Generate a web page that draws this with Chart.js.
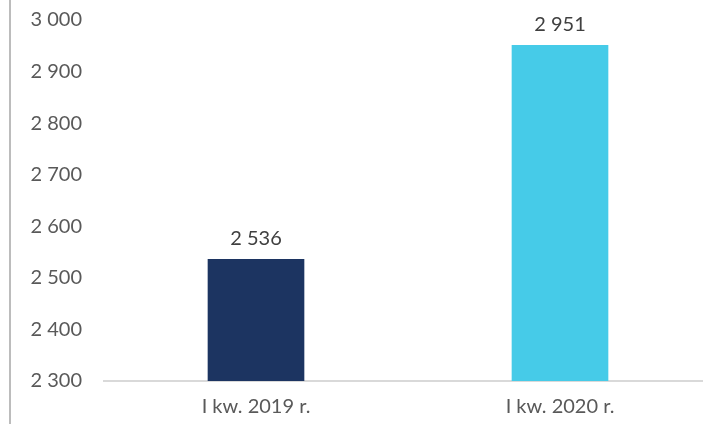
<!DOCTYPE html>
<html>
<head>
<meta charset="utf-8">
<script src="https://cdn.jsdelivr.net/npm/chart.js@4/dist/chart.umd.min.js"></script>
<style>
  html, body { margin: 0; padding: 0; background: #fff; overflow: hidden; }
  #wrap { width: 712px; height: 424px; }
</style>
</head>
<body>
<div id="wrap"><canvas id="myChart"></canvas></div>
<script>
const categories = ['I kw. 2019 r.', 'I kw. 2020 r.'];
const values = [2536, 2951];
const barColors = ['#1C3461', '#46CBE8'];
const yMin = 2300;
const yMax = 3000;
const yStep = 100;

// 2536 -> "2 536"
function fmt(v) {
  return String(Math.round(v)).replace(/\B(?=(\d{3})+(?!\d))/g, ' ');
}

const font = { family: 'Lato, "Open Sans", sans-serif', size: 20 };

// value above each bar
const valueLabels = {
  id: 'valueLabels',
  afterDatasetsDraw(chart) {
    const ctx = chart.ctx;
    const meta = chart.getDatasetMeta(0);
    ctx.save();
    ctx.font = font.size + 'px ' + font.family;
    ctx.fillStyle = '#404040';
    ctx.textAlign = 'center';
    ctx.textBaseline = 'middle';
    meta.data.forEach((bar, i) => {
      ctx.fillText(fmt(values[i]), bar.x, bar.y - 21);
    });
    ctx.restore();
  }
};

// thin frame line on the left edge
const leftRule = {
  id: 'leftRule',
  beforeDraw(chart) {
    const ctx = chart.ctx;
    ctx.save();
    ctx.strokeStyle = '#A6A6A6';
    ctx.lineWidth = 1.5;
    ctx.beginPath();
    ctx.moveTo(10, 0);
    ctx.lineTo(10, chart.height);
    ctx.stroke();
    ctx.restore();
  }
};

const ctx = document.getElementById('myChart');
const myChart = new Chart(ctx, {
  type: 'bar',
  data: {
    labels: categories,
    datasets: [{
      data: values,
      backgroundColor: barColors,
      borderWidth: 0,
      barThickness: 96,
    }]
  },
  options: {
    responsive: true,
    maintainAspectRatio: false,
    animation: false,
    layout: { padding: { top: 20, left: 0, right: 0, bottom: 0 } },
    plugins: {
      legend: { display: false },
      tooltip: { enabled: false },
    },
    scales: {
      x: {
        grid: { display: false, drawTicks: false },
        border: { color: '#D9D9D9', width: 2 },
        ticks: { color: '#595959', font: font, padding: 14 },
        afterFit(scale) { scale.height = 43; },
      },
      y: {
        min: yMin,
        max: yMax,
        grid: { display: false, drawTicks: false },
        border: { display: false },
        ticks: {
          stepSize: yStep,
          color: '#595959',
          font: font,
          padding: 22,
          callback: (v) => fmt(v),
        },
        afterFit(scale) {
          scale.width = 104;
          scale.paddingTop = 0;
          scale.paddingBottom = 0;
        },
      }
    }
  },
  plugins: [valueLabels, leftRule]
});
</script>
</body>
</html>
